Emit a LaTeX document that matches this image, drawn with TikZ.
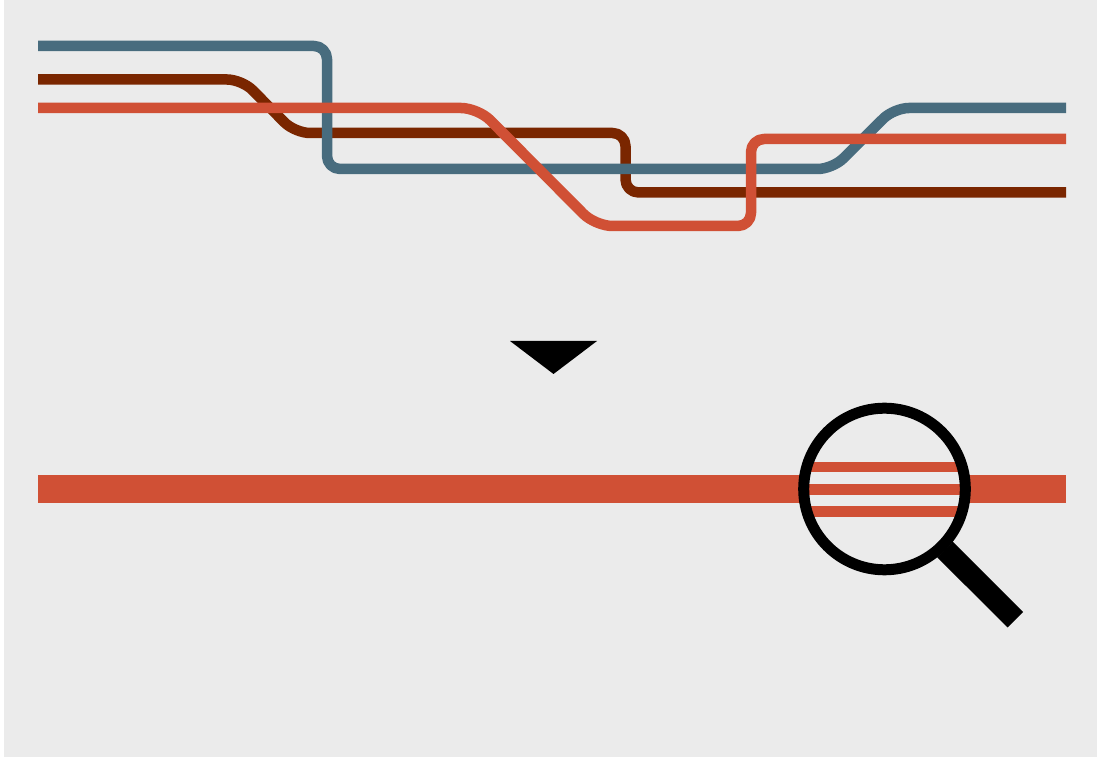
\documentclass[tikz,border=0pt]{standalone}
\usepackage{tikz}
\definecolor{paneback}{HTML}{EBEBEB}
\definecolor{routeblue}{HTML}{486C7E}
\definecolor{routebrown}{HTML}{7A2600}
\definecolor{routered}{HTML}{D05035}
\tikzset{
	route/.style={line width=0.105cm, line join=round},
	lens/.style={line width=0.11cm}
}
\begin{document}
\begin{tikzpicture}[y=-1cm]
		%%%%% START %%%%%
		\useasboundingbox (0, 0) rectangle (10.97, 7.57);
		\fill[white] (0, 0) rectangle (10.97, 7.57);
		\fill[paneback] (0.04, 0) rectangle (10.97, 7.57);
		
		% three routes
		\draw[route, routebrown] (0.38, 0.795) [rounded corners=0.15cm] -- (2.42, 0.795) -- (2.95, 1.33) [rounded corners=0.13cm] -- (6.255, 1.33) -- (6.255, 1.925) -- (10.66, 1.925);
		\draw[route, routeblue] (0.38, 0.46) [rounded corners=0.13cm] -- (3.27, 0.46) -- (3.27, 1.69) [rounded corners=0.15cm] -- (8.326, 1.69) -- (8.94, 1.08) -- (10.66, 1.08);
		\draw[route, routered] (0.38, 1.08) [rounded corners=0.17cm] -- (4.78, 1.08) -- (5.955, 2.26) [rounded corners=0.13cm] -- (7.51, 2.26) -- (7.51, 1.39) -- (10.66, 1.39);
		
		% arrow
		\fill[black] (5.1, 3.41) -- (5.97, 3.41) -- (5.535, 3.74) -- cycle;
		
		% bar
		\fill[routered] (0.38, 4.75) rectangle (10.66, 5.03);
		
		% magnifier
		\fill[paneback] (8.845, 4.89) circle (0.81);
		\begin{scope}
			\clip (8.845, 4.89) circle (0.81);
			\foreach \y in {4.67, 4.895, 5.115} {
				\draw[route, routered] (8, \y) -- (9.7, \y);
			}
		\end{scope}
		\draw[line width=0.22cm] (9.45, 5.495) -- (10.153, 6.197);
		\draw[lens] (8.845, 4.89) circle (0.808);
		%%%%% END %%%%%
	\end{tikzpicture}
\end{document}
